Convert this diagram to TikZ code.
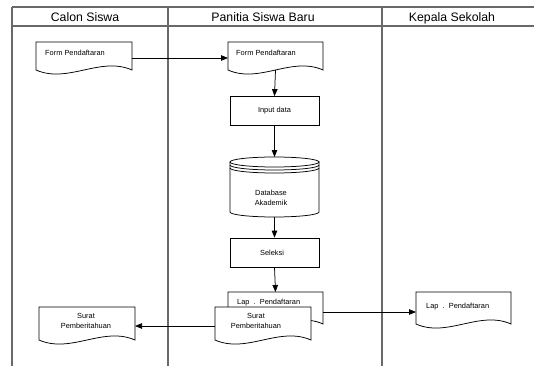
\documentclass[tikz,border=0pt]{standalone}
\usepackage{fontspec}
\setmainfont{Liberation Sans}
\usetikzlibrary{arrows.meta}
\tikzset{
  lane/.style={draw={rgb,255:red,105;green,105;blue,105}, line width=1.2pt},
  shapeline/.style={draw=black, line width=0.75pt, fill=white},
  procbox/.style={shapeline, rectangle, minimum width=89pt, minimum height=29pt, inner sep=0pt,
                  font=\fontsize{7.4}{9}\selectfont, align=center},
  ghost/.style={inner sep=0pt, outer sep=0pt, anchor=north west},
  lbl/.style={inner sep=0pt, font=\fontsize{7.4}{9.6}\selectfont, align=center},
  lbll/.style={lbl, anchor=west},
  head/.style={inner sep=0pt, anchor=base, font=\fontsize{12.3}{14}\selectfont},
  conn/.style={draw=black, line width=0.75pt, -{Triangle[length=7pt,width=5.5pt]}},
}
% #1 name, #2 left x, #3 top y, #4 width, #5 side height
\newcommand{\docshape}[5]{%
  \draw[shapeline] (#2,#3) -- (#2+#4,#3) -- (#2+#4,#3+#5)
     .. controls (#2+0.67*#4,#3+#5-14) and (#2+0.33*#4,#3+#5+14) .. (#2,#3+#5) -- cycle;
  \node[ghost, minimum width=#4 pt, minimum height=#5 pt] (#1) at (#2,#3) {};
}
\begin{document}
\begin{tikzpicture}[x=1pt, y=-1pt]
\useasboundingbox (0,0) rectangle (534,366);
% swimlanes
\coordinate (tl) at (12,7);
\coordinate (tr) at (534,7);
\coordinate (hl) at (12,26);
\coordinate (hr) at (534,26);
\coordinate (d1t) at (168,7);
\coordinate (d2t) at (382,7);
\coordinate (bl) at (12,366);
\coordinate (d1b) at (168,366);
\coordinate (d2b) at (382,366);
\draw[lane] (tl) -- (tr);
\draw[lane] (hl) -- (hr);
\draw[lane] (tl) -- (bl);
\draw[lane] (d1t) -- (d1b);
\draw[lane] (d2t) -- (d2b);
\node[head] (h1) at (85,21.3) {Calon Siswa};
\node[head] (h2) at (263,21.3) {Panitia Siswa Baru};
\node[head] (h3) at (452,21.3) {Kepala Sekolah};

% documents
\docshape{f1}{36}{42}{96}{28}
\node[lbll] (t1) at (45,53) {Form Pendaftaran};
\docshape{f2}{228}{42}{95}{28}
\node[lbll] (t2) at (236,53) {Form Pendaftaran};

% process boxes
\node[procbox] (inp) at (274.5,111) {Input data};

% database cylinder
\draw[shapeline] (230,162) -- (230,212) arc[start angle=180, end angle=0, x radius=44.5, y radius=5]
   -- (319,162) -- cycle;
\draw[shapeline] (274.5,162) ellipse [x radius=44.5, y radius=5];
\draw[line width=0.75pt] (230,165) arc[start angle=180, end angle=0, x radius=44.5, y radius=5];
\draw[line width=0.75pt] (230,168) arc[start angle=180, end angle=0, x radius=44.5, y radius=5];
\node[ghost, minimum width=89pt, minimum height=60pt] (db) at (230,157) {};
\node[lbl] (dbt) at (271,198) {Database\\Akademik};

\node[procbox] (sel) at (274.5,252.5) {};
\node[lbl] (selt) at (272,253) {Seleksi};

% overlapping documents
\docshape{lap2}{228}{292}{95}{32}
\node[lbll] (t3) at (237,302.5) {Lap\ \ .\ \ Pendaftaran};
\docshape{sur2}{215}{307}{96}{33}
\node[lbl] (t4) at (256,321) {Surat\\Pemberitahuan};

\docshape{sur1}{39}{307}{96}{33}
\node[lbl] (t5) at (86,321) {Surat\\Pemberitahuan};
\docshape{lap3}{416}{292}{95}{32}
\node[lbll] (t6) at (426,307) {Lap\ \ .\ \ Pendaftaran};

% connectors
\draw[conn] ([yshift=-2pt]f1.east) -- ([yshift=-2pt]f2.west);
\draw[conn] (f2.south) -- (inp.north);
\draw[conn] (inp.south) -- (db.north);
\draw[conn] (db.south) -- (sel.north);
\draw[conn] (sel.south) -- (lap2.north);
\draw[conn] ([yshift=-4pt]lap2.east) -- ([yshift=-4pt]lap3.west);
\draw[conn] ([yshift=-2.5pt]sur2.west) -- ([yshift=-2.5pt]sur1.east);
\end{tikzpicture}
\end{document}
